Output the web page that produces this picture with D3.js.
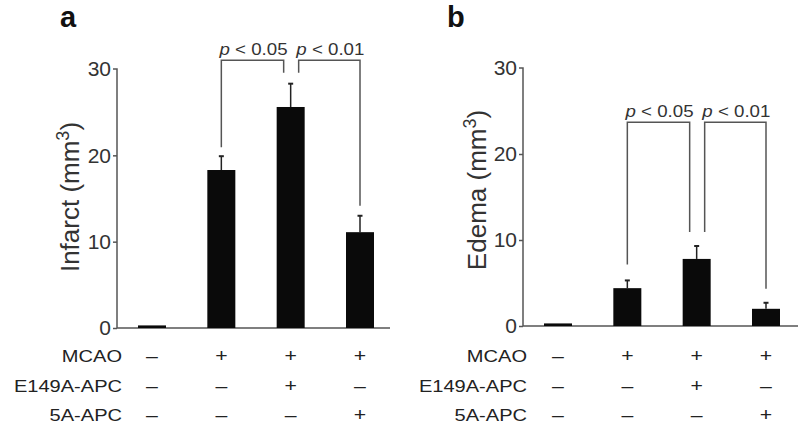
<!DOCTYPE html>
<html>
<head>
<meta charset="utf-8">
<script src="https://cdn.jsdelivr.net/npm/d3@7"></script>
<style>
  body { margin: 0; background: #fff; }
  svg { display: block; font-family: "Liberation Sans", Arial, sans-serif; }
</style>
</head>
<body>
<svg width="800" height="426"></svg>
<script>
/* data */
const groups = ['g1', 'g2', 'g3', 'g4'];
const infarctMean = [0.3, 18.3, 25.6, 11.1];
const infarctSem = [0, 1.6, 2.7, 1.9];
const edemaMean = [0.3, 4.4, 7.8, 2.0];
const edemaSem = [0, 0.9, 1.5, 0.7];
const yTicks = [0, 10, 20, 30];
const rowLabels = ['MCAO', 'E149A-APC', '5A-APC'];
const rowSigns = [
  ['–', '+', '+', '+'],
  ['–', '–', '+', '–'],
  ['–', '–', '–', '+']
];
const pLabels = ['0.05', '0.01'];
const infarctBracketTop = 31.0;
const edemaBracketTop = 23.7;

const svg = d3.select('svg');
const textColor = '#333';
const axisColor = '#555';
const stretch = 1.18; // table text is a bit wider than tall in the figure
const pStretch = 1.1;

function drawPanel(o) {
  const g = svg.append('g');

  const x = d3.scalePoint().domain(groups).range(o.xRange);
  const y = d3.scaleLinear().domain([0, 30]).range(o.yRange);
  const barW = 28;

  /* panel letter */
  g.append('text')
    .attr('x', o.letterX).attr('y', 26.5)
    .attr('font-size', 29).attr('font-weight', 'bold')
    .attr('fill', '#111')
    .text(o.letter);

  /* y axis */
  const yAxis = d3.axisLeft(y).tickValues(yTicks).tickSize(4).tickPadding(2);
  const ya = g.append('g')
    .attr('transform', `translate(${o.axisX},0)`)
    .call(yAxis);
  ya.select('.domain').attr('d', `M-4,${y(30)}H0V${y(0)}`).attr('stroke', axisColor).attr('stroke-width', 1.5);
  ya.selectAll('.tick line').attr('stroke', axisColor).attr('stroke-width', 1.5);
  ya.selectAll('.tick text')
    .attr('font-size', 21).attr('fill', textColor)
    .attr('font-family', '"Liberation Sans", Arial, sans-serif');
  ya.selectAll('.tick').filter(d => d === 30).select('line').remove();

  /* x baseline */
  g.append('line')
    .attr('x1', o.axisX).attr('x2', o.axisEnd)
    .attr('y1', y(0)).attr('y2', y(0))
    .attr('stroke', axisColor).attr('stroke-width', 1.5);

  /* y title */
  const t = g.append('text')
    .attr('transform', `translate(${o.titleX},${o.titleY}) rotate(-90)`)
    .attr('text-anchor', 'middle')
    .attr('font-size', 26).attr('fill', textColor);
  t.append('tspan').text(o.title + ' (mm');
  t.append('tspan').attr('font-size', 18).attr('dy', -10).text('3');
  t.append('tspan').attr('dy', 10).text(')');

  /* error bars */
  const errTop = o.mean.map((m, i) => m + o.sem[i]);
  g.selectAll('.err')
    .data(groups.filter((d, i) => o.sem[i] > 0))
    .enter()
    .append('g')
    .each(function (d) {
      const i = groups.indexOf(d);
      const cx = x(d);
      const sel = d3.select(this);
      sel.append('line')
        .attr('x1', cx).attr('x2', cx)
        .attr('y1', y(o.mean[i])).attr('y2', y(errTop[i]))
        .attr('stroke', '#222').attr('stroke-width', 1.5);
      sel.append('line')
        .attr('x1', cx - 2.5).attr('x2', cx + 2.5)
        .attr('y1', y(errTop[i])).attr('y2', y(errTop[i]))
        .attr('stroke', '#222').attr('stroke-width', 2);
    });

  /* bars */
  g.selectAll('.bar')
    .data(groups)
    .enter()
    .append('rect')
    .attr('x', d => x(d) - barW / 2)
    .attr('width', barW)
    .attr('y', (d, i) => y(o.mean[i]))
    .attr('height', (d, i) => y(0) - y(o.mean[i]))
    .attr('fill', '#0a0a0a');

  /* significance brackets: group 2 vs 3, group 3 vs 4 */
  const topY = y(o.bracketTop);
  const legs = [
    [x(groups[1]), y(errTop[1]) - o.gap[0], x(groups[2]) - 7, y(errTop[2]) - o.gap[1]],
    [x(groups[2]) + 8, y(errTop[2]) - o.gap[1], x(groups[3]), y(errTop[3]) - o.gap[2]]
  ];
  legs.forEach((l, k) => {
    g.append('path')
      .attr('d', `M${l[0]},${l[1]}V${topY}H${l[2]}V${l[3]}`)
      .attr('fill', 'none')
      .attr('stroke', axisColor).attr('stroke-width', 1.5);
    const lbl = g.append('text')
      .attr('transform', `translate(${(l[0] + l[2]) / 2 + (k === 0 ? 1 : 1)},${topY - 5}) scale(${pStretch},1)`)
      .attr('text-anchor', 'middle')
      .attr('font-size', 17).attr('fill', textColor);
    lbl.append('tspan').attr('font-style', 'italic').text('p');
    lbl.append('tspan').text(' < ' + pLabels[k]);
  });

  /* treatment table */
  const rowY = [362, 392, 421];
  rowLabels.forEach((lab, r) => {
    g.append('text')
      .attr('transform', `translate(${o.tableX},${rowY[r]}) scale(${stretch},1)`)
      .attr('text-anchor', 'end')
      .attr('font-size', 17).attr('fill', '#222')
      .text(lab);
    g.selectAll(null)
      .data(groups)
      .enter()
      .append('text')
      .attr('transform', d => `translate(${x(d)},${rowY[r]}) scale(${stretch},1)`)
      .attr('text-anchor', 'middle')
      .attr('font-size', 18).attr('fill', '#222')
      .text((d, i) => rowSigns[r][i]);
  });
}

drawPanel({
  letter: 'a', letterX: 60,
  xRange: [152, 360], yRange: [328, 69],
  axisX: 117, axisEnd: 390,
  title: 'Infarct', titleX: 79, titleY: 197,
  mean: infarctMean, sem: infarctSem,
  bracketTop: infarctBracketTop, gap: [9, 11, 10],
  tableX: 122
});

drawPanel({
  letter: 'b', letterX: 447,
  xRange: [558, 766], yRange: [326, 68],
  axisX: 523, axisEnd: 798,
  title: 'Edema', titleX: 486, titleY: 190,
  mean: edemaMean, sem: edemaSem,
  bracketTop: edemaBracketTop, gap: [16, 14, 14],
  tableX: 527
});
</script>
</body>
</html>
